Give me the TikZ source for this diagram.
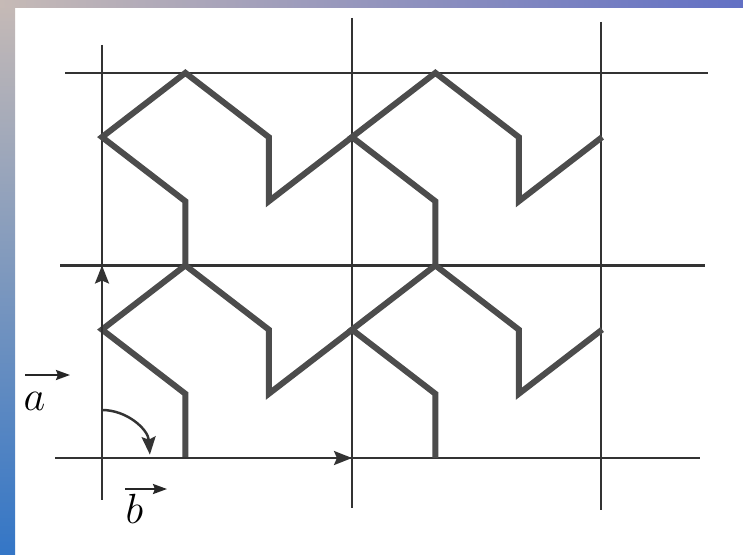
\documentclass[tikz,border=0pt]{standalone}
\usepackage{tikz}
\usetikzlibrary{arrows.meta, calc}
\definecolor{FrameRose}{RGB}{198,186,182}
\definecolor{FrameTeal}{RGB}{112,190,204}
\definecolor{FrameBlue}{RGB}{52,118,198}
\definecolor{FrameViolet}{RGB}{98,112,196}
\definecolor{FrameMauve}{RGB}{150,146,196}

\begin{document}
\begin{tikzpicture}[
    x=0.01cm, y=0.01cm,
    gridline/.style={draw=black!80, line width=0.7pt},
    motif/.style={draw=black!70, line width=1.7pt, line join=miter},
    vecarrow/.style={-{Stealth[length=0.18cm, width=0.14cm, inset=0.03cm]},
        draw=black!80, line width=0.7pt},
    overarrow/.style={-{Stealth[length=0.14cm, width=0.1cm, inset=0.02cm]},
        draw=black!85, line width=0.6pt},
    veclabel/.style={font=\large, inner sep=0pt, anchor=base west}
]
\useasboundingbox (0,0) rectangle (743,554);

% ===================================================================
% SLIDE FRAME
% ===================================================================
\fill[white] (0,0) rectangle (743,554);
\shade[top color=FrameRose, middle color=FrameTeal, bottom color=FrameBlue]
    (0,0) rectangle (15,554);
\shade[left color=FrameRose, middle color=FrameMauve, right color=FrameViolet]
    (0,546) rectangle (743,554);

% ===================================================================
% LATTICE
% ===================================================================
\coordinate (O) at (102,96);
\coordinate (A) at (102,288.5);
\coordinate (B) at (352,96);

\draw[gridline] (65,481) -- (708,481);
\draw[gridline] (60,288.5) -- (705,288.5);
\draw[gridline] (55,96) -- (700,96);
\draw[gridline] (102,509) -- (102,54);
\draw[gridline] (352,536) -- (352,46);
\draw[gridline] (601,532) -- (601,44);

% ===================================================================
% MOTIF, repeated in each cell
% ===================================================================
\foreach \i in {0,1}
  \foreach \j in {0,1} {
    \begin{scope}[shift={(102+250*\i, 96+192.5*\j)}, x=2.5cm, y=1.925cm]
      \draw[motif] (1/3,0) -- (1/3,1/3) -- (0,2/3) -- (1/3,1)
          -- (2/3,2/3) -- (2/3,1/3) -- (1,2/3);
    \end{scope}
  }

% ===================================================================
% BASIS VECTORS
% ===================================================================
\draw[vecarrow] (O) -- (A);
\draw[vecarrow] (O) -- (B);
\coordinate (turn) at (102,144);
\draw[vecarrow] (turn) arc[start angle=90, end angle=4, radius=48];

% labels with their arrows
\node[veclabel] (alabel) at (23,144) {$a$};
\draw[overarrow] ($(alabel.base west)+(2,35)$) -- ++(45,0);
\node[veclabel] (blabel) at (125,31) {$b$};
\draw[overarrow] ($(blabel.base west)+(0,34)$) -- ++(42,0);

\end{tikzpicture}
\end{document}
